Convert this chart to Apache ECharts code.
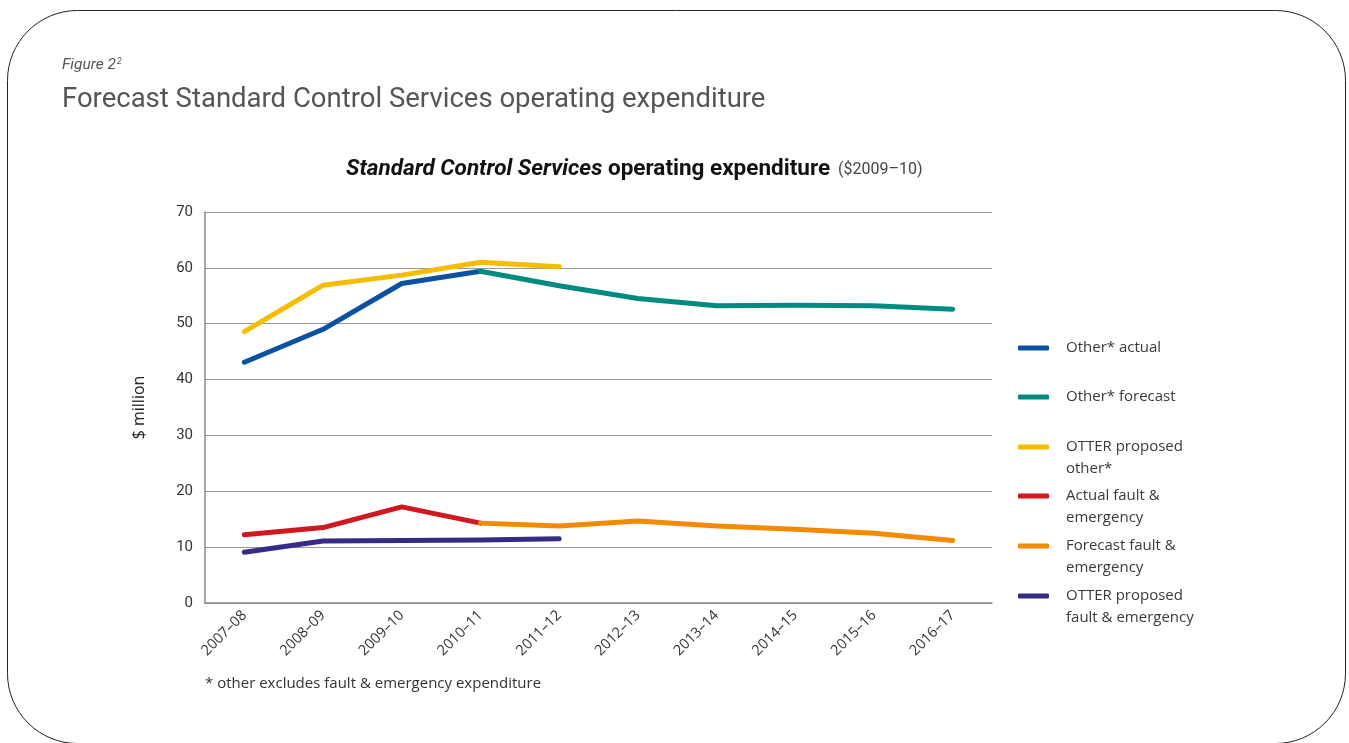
<!DOCTYPE html>
<html>
<head>
<meta charset="utf-8">
<script src="https://cdn.jsdelivr.net/npm/echarts@6/dist/echarts.min.js"></script>
<style>html,body{margin:0;padding:0;background:#fff}#c{width:1349px;height:743px}</style>
</head>
<body>
<div id="c"></div>
<script>
const categories = ['2007–08','2008–09','2009–10','2010–11','2011–12','2012–13','2013–14','2014–15','2015–16','2016–17'];
const otherActual = [43.1, 49.0, 57.2, 59.4, null, null, null, null, null, null];
const otherForecast = [null, null, null, 59.4, 56.8, 54.5, 53.2, 53.3, 53.2, 52.6];
const otterOther = [48.6, 56.9, 58.7, 61.0, 60.2, null, null, null, null, null];
const actualFault = [12.2, 13.5, 17.2, 14.3, null, null, null, null, null, null];
const forecastFault = [null, null, null, 14.3, 13.8, 14.7, 13.8, 13.2, 12.5, 11.2];
const otterFault = [9.1, 11.1, 11.2, 11.3, 11.5, null, null, null, null, null];
const yTicks = { min: 0, max: 70, interval: 10 };

const seriesDefs = [
  { name: 'Other* actual', label: 'Other* actual', data: otherActual, color: '#0a51a1', two: false },
  { name: 'Other* forecast', label: 'Other* forecast', data: otherForecast, color: '#008b82', two: false },
  { name: 'OTTER proposed other*', label: 'OTTER proposed\nother*', data: otterOther, color: '#f5bd00', two: true },
  { name: 'Actual fault & emergency', label: 'Actual fault &\nemergency', data: actualFault, color: '#d3171f', two: true },
  { name: 'Forecast fault & emergency', label: 'Forecast fault &\nemergency', data: forecastFault, color: '#f38b00', two: true },
  { name: 'OTTER proposed fault & emergency', label: 'OTTER proposed\nfault & emergency', data: otterFault, color: '#362b86', two: true }
];
const legendIconY = [348, 397, 447, 496, 546, 596];

const chart = echarts.init(document.getElementById('c'));
const legends = seriesDefs.map((s, i) => ({
  orient: 'vertical',
  left: 1018,
  top: s.two ? legendIconY[i] - 33 : legendIconY[i] - 11,
  padding: 0,
  itemWidth: 31,
  itemHeight: 5,
  icon: 'roundRect',
  selectedMode: false,
  data: [s.name],
  formatter: () => (s.two ? '\n' : '') + s.label,
  textStyle: { fontFamily: 'Open Sans', fontSize: 15, color: '#3a3a3a', lineHeight: 22, padding: [0, 0, 0, 12] }
}));

chart.setOption({
  animation: false,
  backgroundColor: '#fff',
  graphic: [
    { type: 'rect', shape: { x: 7.5, y: 10.5, width: 1338, height: 733, r: 70 },
      style: { fill: 'none', stroke: '#222', lineWidth: 1 } },
    { type: 'text', left: 62, top: 57,
      style: { text: '{a|Figure 2}{s|2}', rich: {
        a: { fontFamily: 'Roboto', fontStyle: 'italic', fontSize: 15.5, fill: '#555' },
        s: { fontFamily: 'Roboto', fontStyle: 'italic', fontSize: 9, fill: '#555', verticalAlign: 'top', padding: [0, 0, 8, 1] } } } },
    { type: 'text', left: 62, top: 86,
      style: { text: 'Forecast Standard Control Services operating expenditure', fontFamily: 'Roboto', fontSize: 27.5, fill: '#555' } },
    { type: 'text', left: 346, top: 158,
      style: { text: '{i|Standard Control Services}{b| operating expenditure}{n|  ($2009–10)}', rich: {
        i: { fontFamily: 'Roboto', fontStyle: 'italic', fontWeight: 'bold', fontSize: 22.5, fill: '#111' },
        b: { fontFamily: 'Roboto', fontWeight: 'bold', fontSize: 22.5, fill: '#111' },
        n: { fontFamily: 'Roboto', fontSize: 16, fill: '#444' } } } },
    { type: 'text', left: 205, top: 676,
      style: { text: '* other excludes fault & emergency expenditure', fontFamily: 'Open Sans', fontSize: 15, fill: '#333' } }
  ],
  legend: legends,
  grid: { left: 205, right: 357, top: 212, bottom: 140 },
  xAxis: {
    type: 'category', data: categories, boundaryGap: true,
    axisLine: { show: true, lineStyle: { color: '#888', width: 1.5 } },
    axisTick: { show: false },
    axisLabel: { rotate: 45, fontFamily: 'Open Sans', fontSize: 14.5, color: '#333', margin: 10 }
  },
  yAxis: {
    type: 'value', min: yTicks.min, max: yTicks.max, interval: yTicks.interval,
    name: '$ million', nameLocation: 'middle', nameGap: 58, nameRotate: 90,
    nameTextStyle: { fontFamily: 'Open Sans', fontSize: 16, color: '#222' },
    axisLine: { show: true, lineStyle: { color: '#888', width: 1.5 } },
    axisTick: { show: false },
    axisLabel: { fontFamily: 'Roboto', fontSize: 15, color: '#333', margin: 12 },
    splitLine: { lineStyle: { color: '#999', width: 1 } }
  },
  series: seriesDefs.map(s => ({
    type: 'line', name: s.name, data: s.data, symbol: 'none', connectNulls: false,
    color: s.color,
    lineStyle: { width: 5, color: s.color, cap: 'round', join: 'round' },
    z: s.name.indexOf('OTTER') === 0 ? 3 : 2
  }))
});
</script>
</body>
</html>
